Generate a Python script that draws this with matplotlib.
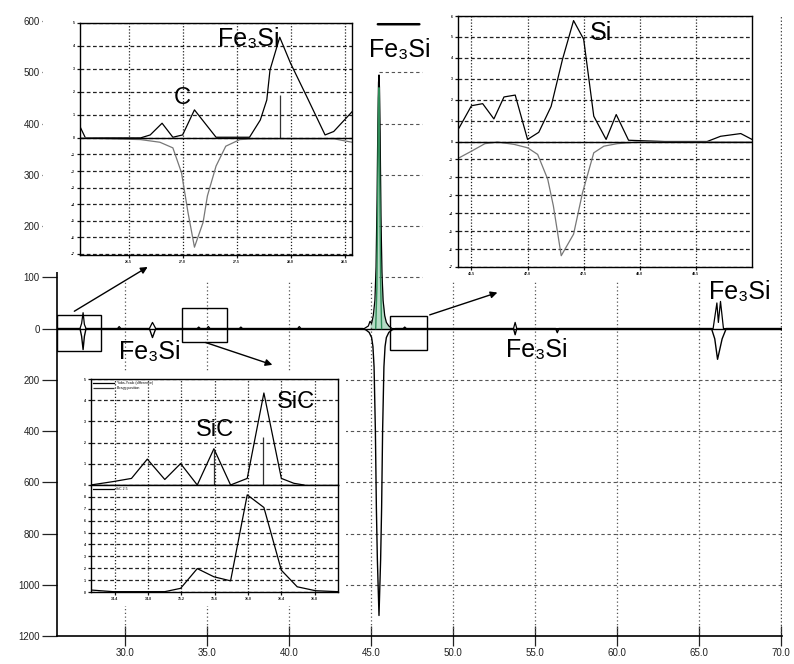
import numpy as np
import matplotlib.pyplot as plt
from matplotlib.patches import Rectangle, FancyArrowPatch

plt.rcParams['font.family'] = ['Liberation Sans', 'DejaVu Sans']

# ---- main difference pattern (2theta, counts) ----
main_up_x = [25.85, 27.25, 27.35, 27.44, 27.52, 27.62, 29.54, 29.64, 29.74, 31.48, 31.67, 31.87,
             34.39, 34.49, 34.59, 34.98, 35.08, 35.18, 36.96, 37.06, 37.16, 40.52, 40.62, 40.72,
             44.58, 44.83, 44.93, 45.03, 45.13, 45.23, 45.30, 45.36, 45.41, 45.45, 45.48,
             45.51, 45.55, 45.60, 45.66, 45.73, 45.83, 45.93, 46.08, 46.28, 46.95, 47.05, 47.15,
             53.68, 53.78, 53.88, 65.85, 66.08, 66.17, 66.30, 66.48, 70.05]
main_up_y = [0, 0, 10, 31, 8, 0, 0, 4, 0, 0, 12, 0,
             0, 3, 0, 0, 4, 0, 0, 3, 0, 0, 4, 0,
             0, 5, 14, 10, 25, 55, 120, 250, 400, 480, 495,
             470, 380, 220, 110, 55, 25, 12, 5, 0, 0, 3, 0,
             0, 12, 0, 0, 50, 12, 53, 0, 0]
main_dn_x = [25.85, 27.25, 27.35, 27.44, 27.52, 27.62, 31.48, 31.67, 31.87,
             44.48, 44.68, 44.88, 45.03, 45.11, 45.18, 45.26, 45.32, 45.38, 45.48, 45.58, 45.64,
             45.70, 45.78, 45.85, 45.93, 46.08, 46.28, 46.48, 53.68, 53.78, 53.88, 56.25, 56.35, 56.45,
             65.75, 65.95, 66.12, 66.40, 66.65, 70.05]
main_dn_y = [0, 0, -30, -82, -30, 0, 0, -35, 0,
             0, -5, -15, -35, -70, -150, -400, -700, -900, -1120, -900, -700,
             -400, -150, -70, -35, -15, -5, 0, 0, -24, 0, 0, -16, 0,
             0, -40, -120, -40, 0, 0]
green_x = [45.28, 45.35, 45.40, 45.45, 45.48, 45.52, 45.58, 45.64]
green_y = [0, 80, 250, 450, 470, 300, 90, 0]

x_ticks = [30, 35, 40, 45, 50, 55, 60, 65, 70]
x_labels = ["30.0", "35.0", "40.0", "45.0", "50.0", "55.0", "60.0", "65.0", "70.0"]
y_ticks = [600, 500, 400, 300, 200, 100, 0, -200, -400, -600, -800, -1000, -1200]
y_labels = ["600", "500", "400", "300", "200", "100", "0", "200", "400", "600", "800", "1000", "1200"]

# ---- inset: C / Fe3Si region ----
c_up_x = [26.05, 26.10, 26.61, 26.70, 26.81, 26.91, 27.00, 27.11, 27.31, 27.62, 27.72, 27.78,
          27.81, 27.90, 28.00, 28.15, 28.32, 28.40, 28.57]
c_up_y = [0.49, 0, 0, 0.13, 0.64, 0.03, 0.13, 1.22, 0.03, 0.03, 0.78, 1.65,
          2.96, 4.38, 3.25, 1.80, 0.13, 0.28, 1.14]
c_dn_x = [26.05, 26.61, 26.79, 26.91, 26.99, 27.05, 27.11, 27.19, 27.23, 27.31, 27.40, 27.53,
          27.65, 28.40, 28.57]
c_dn_y = [0, -0.1, -0.26, -0.6, -2.1, -4.5, -6.6, -5.1, -3.5, -1.7, -0.5, -0.1,
          -0.05, -0.05, -0.26]
c_stick_x = [27.90]
c_stick_y = [1.88]

# ---- inset: Si region ----
si_up_x = [46.39, 46.50, 46.60, 46.70, 46.79, 46.89, 47.00, 47.10, 47.21, 47.31, 47.41, 47.50,
           47.59, 47.70, 47.79, 47.90, 48.22, 48.60, 48.72, 48.90, 49.0]
si_up_y = [0.65, 1.71, 1.81, 1.08, 2.13, 2.22, 0.10, 0.44, 1.68, 3.90, 5.78, 4.89,
           1.21, 0.10, 1.29, 0.06, 0, 0, 0.25, 0.38, 0.10]
si_dn_x = [46.39, 46.50, 46.62, 46.73, 46.88, 47.00, 47.09, 47.18, 47.23, 47.30, 47.41, 47.49,
           47.59, 47.68, 47.80, 47.98, 49.0]
si_dn_y = [-0.91, -0.54, -0.12, -0.03, -0.16, -0.35, -0.72, -2.11, -3.59, -6.37, -5.17, -2.85,
           -0.63, -0.26, -0.12, -0.03, -0.03]

# ---- inset: SiC region ----
sic_up_x = [34.11, 34.38, 34.60, 34.79, 35.00, 35.19, 35.39, 35.59, 35.79, 35.99, 36.19, 36.40,
            36.55, 36.67]
sic_up_y = [0, 0.16, 0.31, 1.22, 0.26, 1.01, 0, 1.71, 0, 0.31, 4.34, 0.31, 0.08, 0]
sic_stick_x = [35.59, 36.18]
sic_stick_y = [1.71, 2.25]
sic_dn_x = [34.11, 34.38, 35.0, 35.19, 35.39, 35.59, 35.79, 35.99, 36.19, 36.40, 36.59, 36.81, 37.08]
sic_dn_y = [0.17, 0.03, 0.03, 0.31, 1.97, 1.28, 0.94, 8.17, 7.11, 1.83, 0.44, 0.11, 0.03]

FE3SI = "Fe\u2083Si"
GRID = '#222222'
LABEL_SIZE = 18


def fold(k):
    """Axis scale where the negative half is squeezed by k."""
    fwd = lambda v: np.where(np.asarray(v) >= 0, v, np.asarray(v) * k)
    inv = lambda s: np.where(np.asarray(s) >= 0, s, np.asarray(s) / k)
    return fwd, inv


def style_inset(ax):
    for sp in ax.spines.values():
        sp.set_linewidth(1.0)
        sp.set_color('black')
    ax.tick_params(length=2.5, width=0.9, pad=1, labelsize=2.5, colors='#111111')
    for t in ax.get_xticklabels() + ax.get_yticklabels():
        t.set_fontweight('bold')
    ax.grid(axis='x', ls=(0, (1, 1.5)), color=GRID, lw=0.9)
    ax.grid(axis='y', ls=(0, (3, 2)), color=GRID, lw=0.9)


fig = plt.figure(figsize=(7.94, 6.64), dpi=100)
ax = fig.add_axes([0.0718, 0.0422, 0.9131, 0.9352], zorder=0)
ax.set_yscale('function', functions=fold(0.5))
ax.set_xlim(25.85, 70.05)
ax.set_ylim(-1200, 612)

# background grid
ax.hlines([-200, -400, -600, -800, -1000], 25.85, 70.05, colors='#555555', lw=0.8,
          linestyles=(0, (3, 2.5)))
ax.hlines([100, 200, 300, 400, 500], 45.5, 48.11, colors='#555555', lw=0.8,
          linestyles=(0, (3, 2.5)))
ax.vlines(x_ticks[:-1], -1200, 90, colors='#555555', lw=0.9, linestyles=(0, (1, 2)))
ax.vlines(x_ticks[-1:], -1200, 612, colors='#444444', lw=1.0, linestyles=(0, (1, 1.5)))
ax.axhline(0, color='black', lw=1.0)

# difference curves
up_x = np.array(main_up_x)
ax.fill_between(up_x, main_up_y, 0, where=(up_x > 44.9) & (up_x < 46.1),
                color='#b5dcc6', lw=0)
ax.plot(main_up_x, main_up_y, color='black', lw=0.9)
ax.plot(main_dn_x, main_dn_y, color='black', lw=1.0)
ax.plot(green_x, green_y, color='#2e8b57', lw=1.0)

ax.set_xticks(x_ticks, x_labels)
ax.set_yticks(y_ticks, y_labels)
ax.tick_params(axis='x', direction='inout', length=14, width=0.9, pad=1.5, labelsize=7,
               colors='#222222')
ax.tick_params(axis='y', direction='out', length=11, width=0.9, pad=1.5, labelsize=7,
               colors='#222222')
ax.spines['top'].set_visible(False)
ax.spines['right'].set_visible(False)
ax.spines['left'].set_linewidth(1.2)
ax.spines['bottom'].set_linewidth(1.2)

# zoom boxes on the main pattern
for x0, x1, y0, y1 in [(25.87, 28.53, -86, 27), (33.47, 36.2, -51, 41), (46.16, 48.41, -82, 25)]:
    ax.add_patch(Rectangle((x0, y0), x1 - x0, y1 - y0, fill=False, ec='black', lw=1.0))

# labels on main axes
ax.text(46.76, 544, FE3SI, ha='center', va='center', fontsize=LABEL_SIZE)
ax.annotate('', xy=(48.11, 594), xytext=(45.24, 594),
            arrowprops=dict(arrowstyle='-', lw=1.8, color='black'))
ax.text(31.52, -90, FE3SI, ha='center', va='center', fontsize=LABEL_SIZE)
ax.text(55.12, -82, FE3SI, ha='center', va='center', fontsize=LABEL_SIZE)
ax.text(67.5, 72, FE3SI, ha='center', va='center', fontsize=LABEL_SIZE)

# white backgrounds behind the insets
for r in [(0.0542, 0.5904, 0.3942, 0.3916), (0.5542, 0.5783, 0.4055, 0.4096),
          (0.0735, 0.0873, 0.3623, 0.3524)]:
    fig.add_artist(Rectangle(r[:2], r[2], r[3], transform=fig.transFigure,
                             fc='white', ec='none', zorder=0.5))

# ---- inset 1 ----
ax1 = fig.add_axes([0.1008, 0.6160, 0.3426, 0.3494], zorder=1)
ax1.set_yscale('function', functions=fold(0.72))
ax1.plot(c_up_x, c_up_y, color='black', lw=0.9)
ax1.plot(c_dn_x, c_dn_y, color='#777777', lw=0.9)
ax1.vlines(c_stick_x, 0, c_stick_y, colors='#333333', lw=0.9)
ax1.axhline(0, color='black', lw=1.0)
ax1.set_xlim(26.05, 28.57)
ax1.set_ylim(-7.07, 5.0)
ax1.set_xticks([26.5, 27.0, 27.5, 28.0, 28.5])
ax1.set_yticks(list(range(-7, 6)))
style_inset(ax1)
ax1.text(27.61, 4.3, FE3SI, ha='center', va='center', fontsize=LABEL_SIZE)
ax1.text(27.0, 1.75, 'C', ha='center', va='center', fontsize=17)

# ---- inset 2 ----
ax2 = fig.add_axes([0.5768, 0.5979, 0.3703, 0.3780], zorder=1)
ax2.set_yscale('function', functions=fold(0.857))
ax2.plot(si_up_x, si_up_y, color='black', lw=0.9)
ax2.plot(si_dn_x, si_dn_y, color='#777777', lw=0.9)
ax2.axhline(0, color='black', lw=1.0)
ax2.set_xlim(46.38, 49.0)
ax2.set_ylim(-7.0, 6.0)
ax2.set_xticks([46.5, 47.0, 47.5, 48.0, 48.5])
ax2.set_yticks(list(range(-7, 7)))
style_inset(ax2)
ax2.text(47.65, 5.2, 'Si', ha='center', va='center', fontsize=LABEL_SIZE)

# ---- inset 3 (two panels) ----
ax3a = fig.add_axes([0.1142, 0.2696, 0.3115, 0.1596], zorder=1)
ax3b = fig.add_axes([0.1142, 0.1084, 0.3115, 0.1612], zorder=1, sharex=ax3a)
ax3a.plot(sic_up_x, sic_up_y, color='black', lw=0.9, label='Yobs-Ycalc (difference)')
ax3a.vlines(sic_stick_x, 0, sic_stick_y, colors='#333333', lw=0.9, label='Bragg position')
ax3a.set_ylim(0, 5)
ax3a.set_yticks(list(range(0, 6)))
ax3b.plot(sic_dn_x, sic_dn_y, color='black', lw=0.9, label='SiC 2.5')
ax3b.set_ylim(0, 9)
ax3b.set_yticks(list(range(0, 9)))
ax3b.set_xlim(34.11, 37.08)
ax3b.set_xticks([34.4, 34.8, 35.2, 35.6, 36.0, 36.4, 36.8])
style_inset(ax3a)
style_inset(ax3b)
ax3a.tick_params(axis='x', length=0, labelbottom=False)
ax3a.legend(loc='upper left', fontsize=2.5, frameon=False, handlelength=6,
            borderaxespad=0.3, labelspacing=0.2)
ax3b.legend(loc='upper left', fontsize=2.5, frameon=False, handlelength=6,
            borderaxespad=0.2)
ax3a.text(35.6, 2.6, 'SiC', ha='center', va='center', fontsize=17)
ax3a.text(36.58, 3.9, 'SiC', ha='center', va='center', fontsize=17)

# arrows from the zoom boxes to the insets
for a, b in [((26.76, 31), (31.52, 123)), ((34.75, -51), (39.14, -145)),
             ((48.41, 25), (52.86, 72))]:
    fig.add_artist(FancyArrowPatch(a, b, transform=ax.transData, arrowstyle='-|>',
                                   mutation_scale=10, lw=1.0, color='black', zorder=3))

fig.savefig('out.png', dpi=100)
